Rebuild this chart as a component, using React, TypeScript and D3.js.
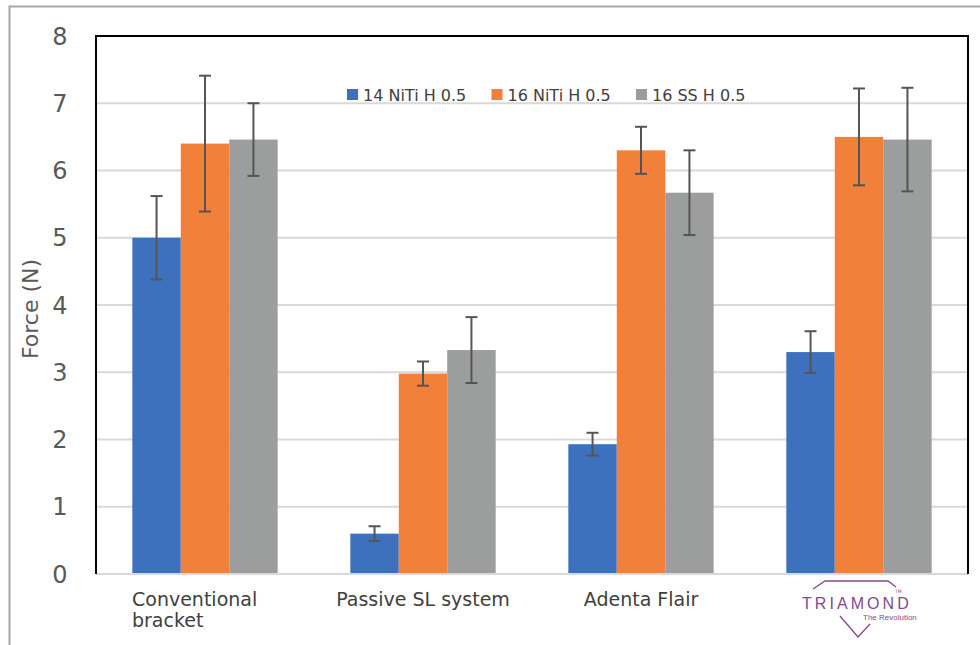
import React from "react";
import * as d3 from "d3";

const categories = ["Conventional bracket", "Passive SL system", "Adenta Flair", "TRIAMOND"];
const seriesNames = ["14 NiTi H 0.5", "16 NiTi H 0.5", "16 SS H 0.5"];
const niti14 = [5.0, 0.6, 1.93, 3.3];
const niti16 = [6.4, 2.98, 6.3, 6.5];
const ss16 = [6.46, 3.33, 5.67, 6.46];
const niti14Err = [0.62, 0.11, 0.17, 0.31];
const niti16Err = [1.01, 0.18, 0.35, 0.72];
const ss16Err = [0.54, 0.49, 0.63, 0.77];
const yTicks = [0, 1, 2, 3, 4, 5, 6, 7, 8];
const colors = ["#3d71be", "#f0803a", "#9c9e9e"];

const W = 980, H = 645;
const plot = { left: 96, right: 968, top: 36, bottom: 574 };
const FONT = "'DejaVu Sans', sans-serif";

export default function App() {
  const series = [niti14, niti16, ss16];
  const errs = [niti14Err, niti16Err, ss16Err];
  const x0 = d3.scaleBand<string>().domain(categories).range([plot.left, plot.right]).paddingInner(0).paddingOuter(0);
  const x1 = d3.scaleBand<number>().domain([0, 1, 2]).range([0, x0.bandwidth()]).paddingInner(0).paddingOuter(0.75);
  const y = d3.scaleLinear().domain([0, 8]).range([plot.bottom, plot.top]);
  const purple = "#84498f";

  return (
    <svg width={W} height={H} style={{ position: "absolute", left: 0, top: 0, background: "#fff" }}>
      <rect x={9.5} y={6.5} width={1000} height={700} fill="none" stroke="#a6a6a6" strokeWidth={2} />
      {yTicks.filter(t => t > 0 && t < 8).map(t => (
        <line key={t} x1={plot.left} x2={plot.right} y1={y(t)} y2={y(t)} stroke="#d9d9d9" strokeWidth={2} />
      ))}
      {categories.map((c, ci) =>
        series.map((s, si) => {
          const bx = (x0(c) as number) + (x1(si) as number);
          return (
            <rect key={c + si} x={bx} y={y(s[ci])} width={x1.bandwidth()} height={y(0) - y(s[ci])} fill={colors[si]} />
          );
        })
      )}
      <line x1={plot.left} x2={plot.right} y1={plot.bottom} y2={plot.bottom} stroke="#d9d9d9" strokeWidth={2} />
      <path d={`M${plot.left},${plot.bottom} V${plot.top} H${plot.right} V${plot.bottom}`} fill="none" stroke="#000" strokeWidth={2} />
      {categories.map((c, ci) =>
        series.map((s, si) => {
          const cx = (x0(c) as number) + (x1(si) as number) + x1.bandwidth() / 2;
          const hi = y(s[ci] + errs[si][ci]);
          const lo = y(s[ci] - errs[si][ci]);
          return (
            <g key={"e" + c + si} stroke="#555" strokeWidth={2}>
              <line x1={cx} x2={cx} y1={hi} y2={lo} />
              <line x1={cx - 6} x2={cx + 6} y1={hi} y2={hi} />
              <line x1={cx - 6} x2={cx + 6} y1={lo} y2={lo} />
            </g>
          );
        })
      )}
      {yTicks.map(t => (
        <text key={t} x={60} y={y(t)} dy="0.36em" textAnchor="middle" fontFamily={FONT} fontSize={24} fill="#595959">{t}</text>
      ))}
      <text transform={`translate(38,${(plot.top + plot.bottom) / 2 + 4}) rotate(-90)`} textAnchor="middle" fontFamily={FONT} fontSize={22} fill="#595959">Force (N)</text>
      {seriesNames.map((n, i) => (
        <g key={n} transform={`translate(${347 + i * 144.5},95)`}>
          <rect x={0} y={-6} width={11} height={11} fill={colors[i]} />
          <text x={16} y={0} dy="0.35em" fontFamily={FONT} fontSize={16} fill="#404040">{n}</text>
        </g>
      ))}
      <text x={(x0(categories[0]) as number) + 36} y={606} fontFamily={FONT} fontSize={19} fill="#404040">
        <tspan x={(x0(categories[0]) as number) + 36}>Conventional</tspan>
        <tspan x={(x0(categories[0]) as number) + 36} dy={21}>bracket</tspan>
      </text>
      {[1, 2].map(i => (
        <text key={i} x={(x0(categories[i]) as number) + x0.bandwidth() / 2} y={606} textAnchor="middle" fontFamily={FONT} fontSize={19} fill="#404040">{categories[i]}</text>
      ))}
      <g transform={`translate(${(x0(categories[3]) as number) + x0.bandwidth() / 2},0)`} fill="none" stroke={purple} strokeWidth={1.3}>
        <path d="M-46,589 L-34,581 H29 L37,587" />
        <path d="M-19,616 L-1,637 L11,624" />
        <text x={-3} y={609} textAnchor="middle" fontFamily="'Liberation Sans', sans-serif" fontSize={16} fill={purple} stroke="none" letterSpacing={1.2} textLength={108} lengthAdjust="spacing">{categories[3]}</text>
        <text x={36} y={593} fontFamily={FONT} fontSize={4.5} fill={purple} stroke="none">TM</text>
        <text x={4} y={620} fontFamily="'Liberation Sans', sans-serif" fontSize={8} fill={purple} stroke="none">The Revolution</text>
      </g>
    </svg>
  );
}
